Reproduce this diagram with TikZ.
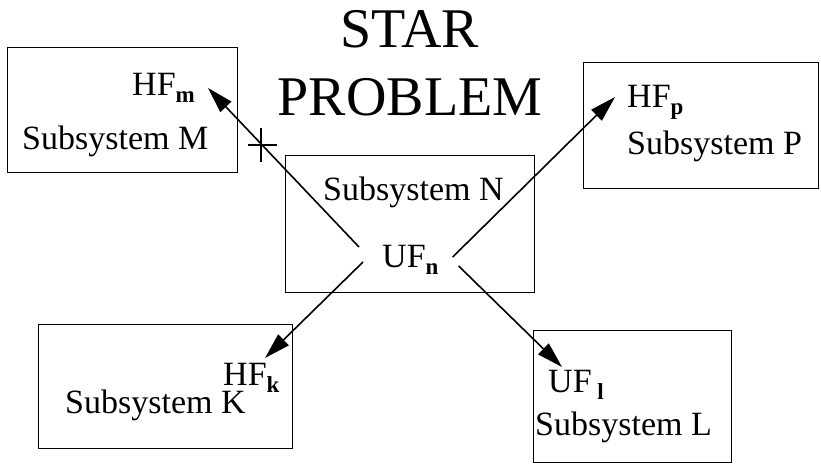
\documentclass[tikz,border=0pt]{standalone}
\usepackage{fontspec}
\setmainfont{Liberation Serif}
\usetikzlibrary{arrows.meta}

\tikzset{
  box/.style = {draw, line width = 1.3pt, inner sep = 0, anchor = north west},
  txt/.style = {inner sep = 0, anchor = base west, font = \fontsize{34}{40}\selectfont},
  ttl/.style = {inner sep = 0, anchor = base, font = \fontsize{56}{68}\selectfont},
  flow/.style = {line width = 1.6pt, -{Triangle[length = 26pt, width = 15pt]}}
}
\newcommand{\sbs}[1]{\raisebox{-7pt}{\fontsize{23}{23}\selectfont\bfseries #1}}

\begin{document}
\begin{tikzpicture}[x = 1pt, y = -1pt]
    \useasboundingbox (0,0) rectangle (821,464);
    % title
    \node [ttl] (star) at (410,47) {STAR};
    \node [ttl] (problem) at (410,115) {PROBLEM};
    % subsystem boxes
    \foreach \nm/\x/\y/\w/\h in {M/7/47/230/125, P/583/62/235/126,
      N/285/155/249/137, K/38/324/254/124, L/533/330/198/132}
      \node [box, minimum width = \w pt, minimum height = \h pt] (box\nm) at (\x,\y) {};
    % texts
    \foreach \nm/\x/\y in {M/22/149, P/627/154, N/323/200, K/65/413, L/535/435}
      \node [txt] (sub\nm) at (\x,\y) {Subsystem \nm};
    \node [txt] (hfm) at (132,95) {HF\sbs{m}};
    \node [txt] (hfp) at (627,107) {HF\sbs{p}};
    \node [txt] (hfk) at (223,385) {HF\sbs{k}};
    \node [txt] (ufl) at (548,392) {UF\,\sbs{l}};
    \node [txt] (ufn) at (382,267) {UF\sbs{n}};
    % arrow ends
    \coordinate (n-ul) at ([shift = {(-23,-20)}]ufn.base west);
    \coordinate (n-ll) at ([shift = {(-19,-5)}]ufn.base west);
    \coordinate (n-ur) at ([shift = {(14,-10)}]ufn.base east);
    \coordinate (n-lr) at ([shift = {(20,-1)}]ufn.base east);
    \coordinate (tip-m) at ([shift = {(13,-7)}]hfm.base east);
    \coordinate (tip-p) at ([shift = {(-12,-10)}]hfp.base west);
    \coordinate (tip-k) at ([shift = {(42,-27)}]hfk.base west);
    \coordinate (tip-l) at ([shift = {(14,-25)}]ufl.base west);
    \draw [flow] (n-ul) -- (tip-m);
    \draw [flow] (n-ur) -- (tip-p);
    \draw [flow] (n-ll) -- (tip-k);
    \draw [flow] (n-lr) -- (tip-l);
    % cut mark
    \coordinate (cut) at (261,145);
    \draw [line width = 1.3pt] ([shift = {(-13,0)}]cut) --++ (29,0)
      ([shift = {(0,-17)}]cut) --++ (0,34);
  \end{tikzpicture}
\end{document}
